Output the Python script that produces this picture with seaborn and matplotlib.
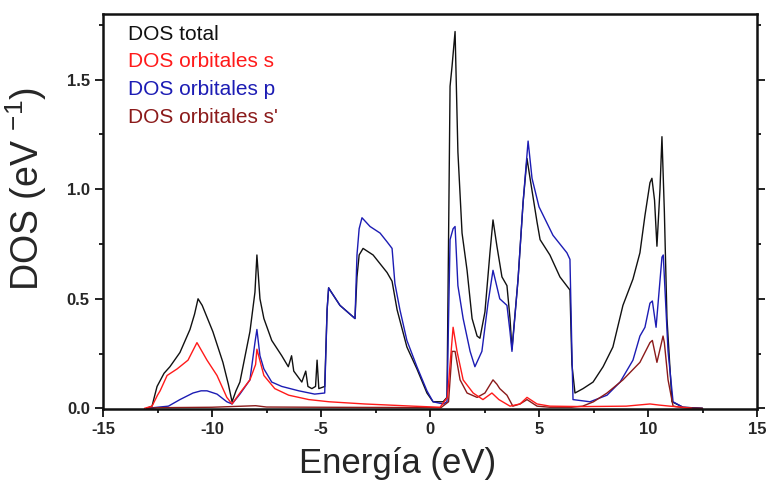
import numpy as np
import pandas as pd
import seaborn as sns
import matplotlib
matplotlib.use("Agg")
import matplotlib.pyplot as plt
from matplotlib.ticker import MultipleLocator

# ---- data ----
total_x = [-13.0, -12.75, -12.65, -12.52, -12.2, -11.93, -11.47, -11.01, -10.8, -10.64, -10.45, -9.96, -9.5, -9.25,
           -9.08, -8.9, -8.72, -8.26, -8.03, -7.94, -7.8, -7.62, -7.26, -6.8, -6.5, -6.35, -6.25, -5.88, -5.7, -5.6,
           -5.42, -5.25, -5.18, -5.1, -4.83, -4.72, -4.65, -4.59, -4.13, -3.67, -3.44, -3.35, -3.25, -3.07, -2.61,
           -1.97, -1.74, -1.51, -1.06, -0.6, -0.14, 0.14, 0.6, 0.78, 0.92, 1.01, 1.15, 1.28, 1.47, 1.7, 1.93, 2.16,
           2.29, 2.52, 2.75, 2.89, 3.07, 3.3, 3.53, 3.67, 3.76, 4.04, 4.27, 4.45, 4.59, 4.91, 5.05, 5.5, 5.96, 6.42,
           6.51, 6.65, 7.02, 7.48, 7.94, 8.39, 8.85, 9.31, 9.63, 9.86, 10.09, 10.18, 10.3, 10.41, 10.55, 10.64, 10.75,
           10.87, 11.1, 11.61, 12.5]
total_y = [0.0, 0.01, 0.05, 0.1, 0.16, 0.19, 0.255, 0.36, 0.43, 0.5, 0.47, 0.35, 0.21, 0.11,
           0.03, 0.08, 0.12, 0.35, 0.53, 0.7, 0.5, 0.41, 0.31, 0.24, 0.19, 0.24, 0.17, 0.12, 0.17, 0.1,
           0.09, 0.1, 0.22, 0.09, 0.1, 0.45, 0.55, 0.54, 0.47, 0.43, 0.41, 0.6, 0.7, 0.73, 0.7,
           0.62, 0.58, 0.45, 0.28, 0.18, 0.07, 0.03, 0.03, 0.05, 1.47, 1.56, 1.72, 1.17, 0.8, 0.63, 0.41, 0.33,
           0.32, 0.44, 0.71, 0.86, 0.74, 0.6, 0.56, 0.41, 0.27, 0.59, 0.94, 1.14, 1.05, 0.85, 0.77, 0.7, 0.6, 0.54,
           0.2, 0.07, 0.09, 0.12, 0.19, 0.28, 0.47, 0.59, 0.71, 0.88, 1.03, 1.05, 0.95, 0.74, 1.0, 1.24, 0.9,
           0.41, 0.03, 0.005, 0.0]

p_x = [-13.0, -12.5, -12.0, -11.47, -10.87, -10.5, -10.23, -9.77, -9.32, -9.08, -8.72, -8.26, -8.03, -7.94, -7.8,
       -7.62, -7.26, -6.8, -6.02, -5.29, -4.83, -4.72, -4.65, -4.59, -4.13, -3.67, -3.44, -3.35, -3.25, -3.12,
       -2.75, -2.29, -1.97, -1.74, -1.61, -1.38, -1.06, -0.6, -0.14, 0.14, 0.6, 0.78, 0.92, 1.06, 1.15, 1.28,
       1.52, 1.84, 2.06, 2.38, 2.66, 2.89, 3.2, 3.53, 3.67, 3.76, 4.04, 4.27, 4.5, 4.68, 5.0, 5.64, 6.28, 6.42,
       6.5, 6.56, 7.34, 8.12, 8.72, 9.31, 9.63, 9.86, 10.09, 10.2, 10.37, 10.64, 10.7, 10.92, 11.15, 11.6, 12.5]
p_y = [0.0, 0.005, 0.01, 0.04, 0.07, 0.08, 0.08, 0.065, 0.03, 0.02, 0.065, 0.13, 0.3, 0.36, 0.24,
       0.18, 0.12, 0.1, 0.08, 0.065, 0.07, 0.45, 0.55, 0.54, 0.47, 0.43, 0.41, 0.7, 0.82, 0.87,
       0.83, 0.8, 0.76, 0.73, 0.57, 0.45, 0.31, 0.19, 0.08, 0.03, 0.02, 0.03, 0.77, 0.82, 0.83, 0.56,
       0.41, 0.26, 0.19, 0.26, 0.48, 0.63, 0.5, 0.47, 0.35, 0.26, 0.59, 0.94, 1.22, 1.05, 0.92, 0.79, 0.71, 0.68,
       0.3, 0.04, 0.03, 0.06, 0.12, 0.22, 0.33, 0.37, 0.48, 0.49, 0.37, 0.69, 0.7, 0.26, 0.03, 0.005, 0.0]

s2_x = [-13.0, -12.5, -10.0, -8.0, -7.5, -5.0, -2.0, 0.5, 0.85, 0.97, 1.01, 1.15, 1.38, 1.7, 2.16, 2.52, 2.89,
        3.07, 3.2, 3.53, 3.8, 4.13, 4.45, 4.91, 5.5, 6.5, 7.0, 7.5, 8.12, 8.85, 9.63, 10.09, 10.2, 10.41, 10.69,
        10.75, 10.92, 11.15, 11.6, 12.5]
s2_y = [0.0, 0.003, 0.005, 0.012, 0.006, 0.005, 0.004, 0.003, 0.03, 0.2, 0.26, 0.26, 0.13, 0.07, 0.05, 0.07, 0.13,
        0.11, 0.09, 0.06, 0.01, 0.02, 0.04, 0.01, 0.005, 0.005, 0.01, 0.03, 0.07, 0.13, 0.21, 0.3, 0.31, 0.21, 0.33,
        0.3, 0.13, 0.01, 0.003, 0.0]

s_x = [-13.1, -12.75, -12.5, -12.38, -12.06, -11.6, -11.1, -10.69, -10.23, -9.77, -9.32, -9.08, -8.72, -8.26,
       -8.0, -7.94, -7.62, -7.12, -6.48, -5.56, -4.63, -3.0, -0.78, 0.46, 0.8, 0.92, 1.06, 1.24, 1.52, 1.98,
       2.43, 2.84, 3.16, 3.67, 4.13, 4.45, 4.91, 5.5, 7.0, 9.0, 10.09, 10.5, 11.0, 11.6, 12.0]
s_y = [0.0, 0.01, 0.06, 0.08, 0.15, 0.18, 0.22, 0.3, 0.22, 0.15, 0.05, 0.02, 0.07, 0.13,
       0.2, 0.27, 0.15, 0.09, 0.06, 0.04, 0.03, 0.02, 0.01, 0.005, 0.05, 0.2, 0.37, 0.26, 0.13, 0.07,
       0.04, 0.07, 0.04, 0.01, 0.02, 0.05, 0.02, 0.01, 0.008, 0.01, 0.02, 0.015, 0.01, 0.005, 0.0]

series_names = ["DOS total", "DOS orbitales s", "DOS orbitales p", "DOS orbitales s'"]
series_colors = ["#111111", "#ff1a1a", "#1c1cb4", "#8b1a1a"]
x_ticks = [-15, -10, -5, 0, 5, 10, 15]
y_ticks = [0.0, 0.5, 1.0, 1.5]

frames = [
    pd.DataFrame({"E": total_x, "DOS": total_y, "serie": series_names[0]}),
    pd.DataFrame({"E": p_x, "DOS": p_y, "serie": series_names[2]}),
    pd.DataFrame({"E": s2_x, "DOS": s2_y, "serie": series_names[3]}),
    pd.DataFrame({"E": s_x, "DOS": s_y, "serie": series_names[1]}),
]
df = pd.concat(frames, ignore_index=True)

sns.set_style("ticks")
plt.rcParams["font.family"] = ["Liberation Sans", "DejaVu Sans"]
plt.rcParams["mathtext.default"] = "regular"

fig = plt.figure(figsize=(7.66, 4.91), dpi=100)
ax = fig.add_axes([103 / 766, 1 - 409 / 491, 654 / 766, 395 / 491])

palette = dict(zip(series_names, series_colors))
draw_order = [series_names[0], series_names[2], series_names[3], series_names[1]]
sns.lineplot(data=df, x="E", y="DOS", hue="serie", hue_order=draw_order, palette=palette,
             estimator=None, sort=False, linewidth=1.0, legend=False, ax=ax)

ax.set_xlim(-15, 15)
ax.set_ylim(-0.003, 1.8)
ax.set_xticks(x_ticks)
ax.set_xticklabels([str(t) for t in x_ticks])
ax.set_yticks(y_ticks)
ax.set_yticklabels([f"{t:.1f}" for t in y_ticks])
ax.xaxis.set_minor_locator(MultipleLocator(2.5))
ax.yaxis.set_minor_locator(MultipleLocator(0.25))
ax.tick_params(which="both", direction="out", right=True, top=False, width=1.3, color="#111111")
ax.tick_params(which="major", length=6)
ax.tick_params(which="minor", length=3)
for lab in ax.get_xticklabels() + ax.get_yticklabels():
    lab.set_family(["Liberation Sans Narrow", "Liberation Sans", "DejaVu Sans"])
    lab.set_fontweight("bold")
    lab.set_fontsize(12)
for sp in ax.spines.values():
    sp.set_linewidth(1.8)
    sp.set_color("#111111")

ax.set_xlabel("Energía (eV)", fontsize=25, va="top")
ax.xaxis.set_label_coords(0.451, -0.097)
ax.set_ylabel("DOS (eV $^{-1}$)", fontsize=27)
ax.yaxis.set_label_coords(-0.083, 0.557)

baselines = [0.934, 0.866, 0.795, 0.724]
for name, col, yb in zip(series_names, series_colors, baselines):
    ax.text(0.038, yb, name, color=col, fontsize=15, va="baseline", ha="left", transform=ax.transAxes)

fig.savefig("out.png", dpi=100)
